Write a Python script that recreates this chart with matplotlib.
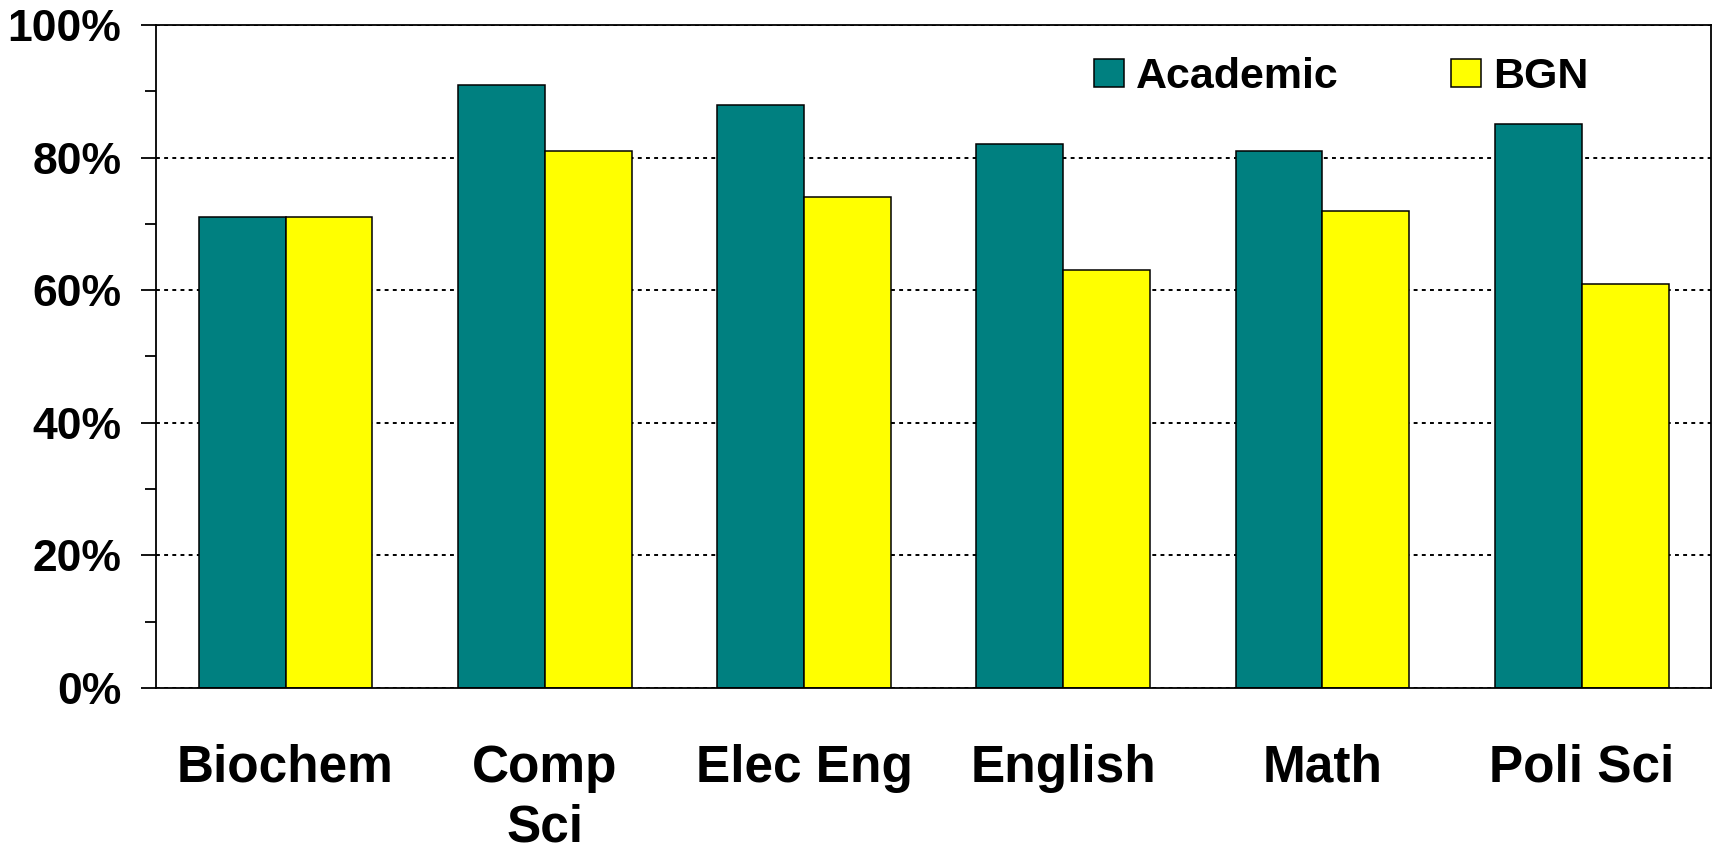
import numpy as np
import matplotlib
matplotlib.use("Agg")
import matplotlib.pyplot as plt
from matplotlib.ticker import MultipleLocator, FuncFormatter

# data
majors = ['Biochem', 'Comp\nSci', 'Elec Eng', 'English', 'Math', 'Poli Sci']
academic = [71, 91, 88, 82, 81, 85]
bgn = [71, 81, 74, 63, 72, 61]

plt.rcParams['font.family'] = ['Liberation Sans', 'DejaVu Sans']
plt.rcParams['font.weight'] = 'bold'

fig = plt.figure(figsize=(17.13, 8.5), dpi=100)
ax = fig.add_axes([0.091, 0.1906, 0.908, 0.78])

x = np.arange(len(majors))
w = 0.335
ax.bar(x - w / 2, academic, w, color='#008080', edgecolor='black', linewidth=1.1,
       label='Academic', zorder=3)
ax.bar(x + w / 2, bgn, w, color='#FFFF00', edgecolor='black', linewidth=1.1,
       label='BGN', zorder=3)

ax.set_xlim(-0.5, len(majors) - 0.5)
ax.set_ylim(0, 100)
ax.yaxis.set_major_locator(MultipleLocator(20))
ax.yaxis.set_minor_locator(MultipleLocator(10))
ax.yaxis.set_major_formatter(FuncFormatter(lambda v, p: f'{v:.0f}%'))
ax.grid(axis='y', which='major', color='black', linestyle=(0, (2, 2.2)),
        linewidth=1.4, zorder=1)

ax.set_xticks(x)
ax.set_xticklabels(majors, fontsize=37, fontweight='bold', linespacing=1.28,
                   va='top')
ax.tick_params(axis='x', length=0, pad=40)
ax.tick_params(axis='y', which='major', length=11, width=1.3, pad=14,
               labelsize=32, direction='out')
ax.tick_params(axis='y', which='minor', length=8, width=1.3, direction='out')
for t in ax.get_yticklabels():
    t.set_fontweight('bold')

for s in ax.spines.values():
    s.set_linewidth(1.3)
    s.set_color('black')
    s.set_zorder(4)

leg = ax.legend(ncol=2, loc='center left', bbox_to_anchor=(0.603, 0.921),
                frameon=False, fontsize=31, borderpad=0, borderaxespad=0,
                handlelength=0.7, handleheight=0.63, handletextpad=0.28,
                columnspacing=2.6, prop={'weight': 'bold', 'size': 31})

fig.savefig('out.png', dpi=100)
